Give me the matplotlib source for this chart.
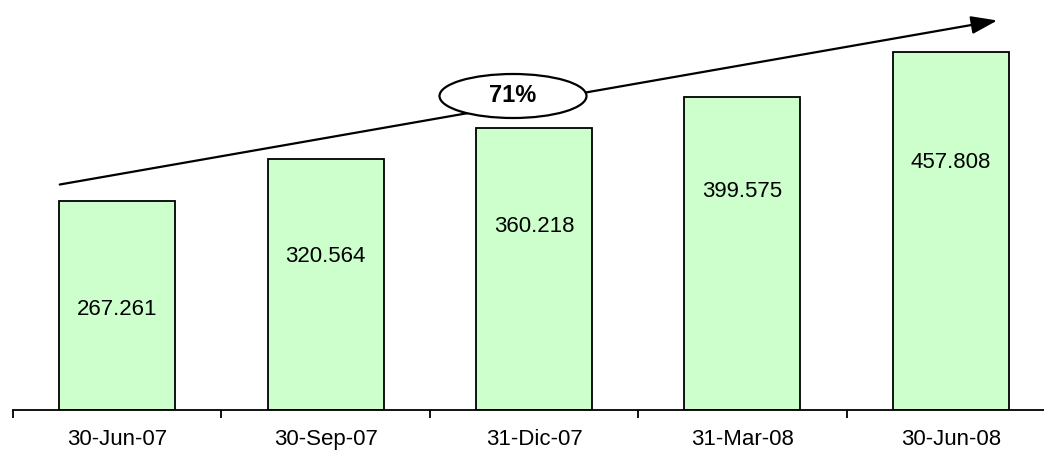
import matplotlib.pyplot as plt
from matplotlib.patches import Ellipse

dates = ["30-Jun-07", "30-Sep-07", "31-Dic-07", "31-Mar-08", "30-Jun-08"]
values = [267.261, 320.564, 360.218, 399.575, 457.808]
label_frac = [0.48, 0.61, 0.65, 0.70, 0.69]
growth = "71%"

plt.rcParams['font.family'] = ['Liberation Sans', 'DejaVu Sans']

fig = plt.figure(figsize=(10.44, 4.5), dpi=100)
ax = fig.add_axes([13 / 1044, 40 / 450, 1042 / 1044, 407 / 450])

x = range(len(dates))
ax.bar(x, values, width=0.556, color="#CCFFCC", edgecolor="black", linewidth=1.3)
for i, v in enumerate(values):
    ax.text(i, v * label_frac[i], "{:.3f}".format(v), ha="center", va="center", fontsize=16)

ax.set_xlim(-0.5, len(dates) - 0.5)
ax.set_ylim(0, 520)
ax.set_xticks([i - 0.5 for i in range(len(dates) + 1)])
ax.set_xticklabels([])
ax.set_xticks(list(x), minor=True)
ax.set_xticklabels(dates, minor=True, fontsize=16)
ax.tick_params(axis="x", which="major", direction="out", length=6, width=1.3)
ax.tick_params(axis="x", which="minor", length=0, pad=14)
ax.set_yticks([])
for s in ["top", "right", "left"]:
    ax.spines[s].set_visible(False)
ax.spines["bottom"].set_linewidth(1.3)

# growth arrow and ellipse in figure coords
ax.annotate("", xy=(1000 / 1044, 1 - 20 / 450), xytext=(57 / 1044, 1 - 185 / 450),
            xycoords="figure fraction", textcoords="figure fraction",
            arrowprops=dict(arrowstyle="-|>,head_length=1.6,head_width=0.55",
                            color="black", lw=1.6))
fig.patches.append(Ellipse((513 / 1044, 1 - 96 / 450), 147 / 1044, 44 / 450,
                           transform=fig.transFigure, facecolor="white",
                           edgecolor="black", linewidth=1.6, zorder=5))
fig.text(513 / 1044, 1 - 96 / 450, growth, ha="center", va="center",
         fontsize=17, fontweight="bold", zorder=6)

fig.savefig("out.png", dpi=100)
